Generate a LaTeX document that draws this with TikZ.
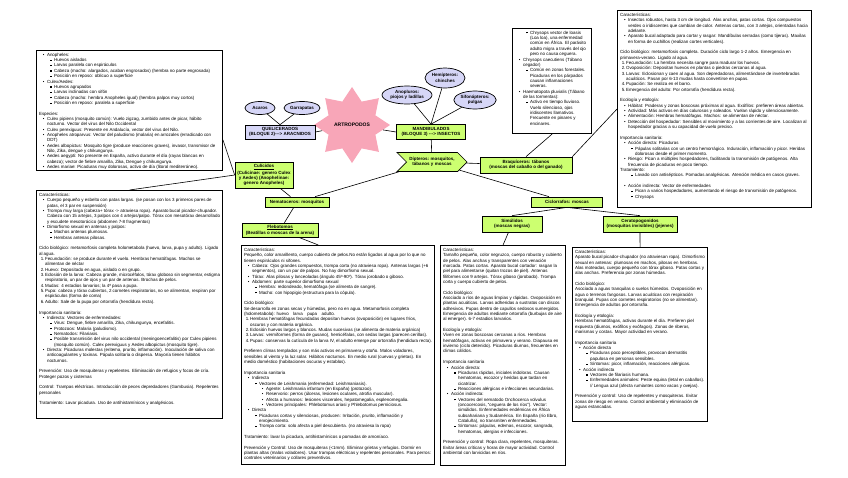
\documentclass[tikz,border=0pt]{standalone}
\usepackage{fontspec}
\setmainfont{Liberation Sans}
\usepackage{enumitem}
\usetikzlibrary{shapes.geometric,shapes.symbols}

\definecolor{lima}{RGB}{204,255,112}
\definecolor{lila}{RGB}{214,214,247}
\definecolor{rosa}{RGB}{248,166,184}

\newcommand\txtsize{\fontsize{4.45}{5.35}\selectfont}
\newcommand\nodesize{\fontsize{4.5}{5.3}\selectfont\bfseries}
\newcommand\sqb{\raisebox{.35ex}{\rule{1.1pt}{1.1pt}}}
\newcommand\gap{\par\vspace{5.35pt}}
\newcommand\cajatxt[3]{\begin{minipage}[t][#2][t]{#1}\raggedright #3\end{minipage}}
\setlength\parindent{0pt}
\setlist{nosep}
\setlist[itemize,1]{label=\textbullet,leftmargin=8pt,labelsep=2.5pt}
\setlist[itemize,2]{label=\sqb,leftmargin=7pt,labelsep=2.5pt}
\setlist[itemize,3]{label=\textbullet,leftmargin=7pt,labelsep=2.5pt}
\setlist[enumerate]{label=\arabic*.,leftmargin=6pt,labelwidth=4pt,labelsep=0.3pt,align=left}

\tikzset{
  txtbox/.style={draw,line width=1.1pt,anchor=north west,inner sep=2.5pt,font=\txtsize},
  grnode/.style={draw,fill=lima,line width=0.7pt,align=center,font=\nodesize,inner sep=1.5pt},
  lavbox/.style={grnode,fill=lila},
  lavell/.style={ellipse,draw,fill=lila,line width=0.7pt,align=center,font=\nodesize,inner sep=0.5pt},
}

\begin{document}
\begin{tikzpicture}[x=1pt,y=-1pt,line width=0.6pt]
\useasboundingbox (0,0) rectangle (848,477);
%% text boxes
\node[txtbox] (tlbox) at (36,50) {\cajatxt{181pt}{115pt}{%
\begin{itemize}
\item Anopheles:
  \begin{itemize}
  \item Huevos aislados
  \item Larvas paralela con espiráculos
  \item Cabeza (macho: alargados, acaban engrosados) (hembra no parte engrosada)
  \item Posición en reposo: oblicuo a superficie
  \end{itemize}
\item Culex/Aedes:
  \begin{itemize}
  \item Huevos agrupados
  \item Larvas inclinadas con sifón
  \item Cabeza (macho: hembra Anopheles igual) (hembra palpos muy cortos)
  \item Posición en reposo: paralela a superficie
  \end{itemize}
\end{itemize}
\gap
Especies:
\begin{itemize}
\item Culex pipiens (mosquito común): Vuelo zigzag, zumbido antes de picar, hábito nocturno. Vector del virus del Nilo Occidental
\item Culex perexiguus: Presente en Andalucía, vector del virus del Nilo.
\item Anopheles atroparvus: Vector del paludismo (malaria) en arrozales (erradicado con DDT)
\item Aedes albopictus: Mosquito tigre (produce reacciones graves), invasor, transmisor de Nilo, Zika, dengue y chikungunya.
\item Aedes aegypti: No presente en España, activo durante el día (rayas blancas en cabeza); vector de fiebre amarilla, Zika, Dengue y chikungunya.
\item Aedes mariae: Picaduras muy dolorosas, activo de día (litoral mediterráneo).
\end{itemize}}};
\node[txtbox] (blbox) at (36,190) {\cajatxt{181pt}{223pt}{%
Características:
\begin{itemize}
\item Cuerpo pequeño y esbelto con patas largas. (se posan con los 3 primeros pares de patas, el 3 par en suspensión)
\item Trompa muy larga (cabeza+ tórax -> atraviesa ropa). Aparato bucal picador-chupador. Cabeza con 15 artejos, 3 palpos con 4 artejos/palpo. Tórax con mesotórax desarrollado y escudete mesotorácico (abdomen 7-8 fragmentos)
\item Dimorfismo sexual en antenas y palpos:
  \begin{itemize}
  \item Machos antenas plumosas.
  \item Hembras antenas pilosas.
  \end{itemize}
\end{itemize}
\gap
Ciclo biológico: metamorfosis completa holometabola (huevo, larva, pupa y adulto). Ligado al agua.
\begin{enumerate}
\item Fecundación: se produce durante el vuelo. Hembras hematófagas. Machos se alimentan de néctar
\item Huevo: Depositado en agua, aislado o en grupo.
\item Eclosión de la larva: Cabeza grande, microcéfalos, tórax globoso sin segmentar, estigma respiratorio, un par de ojos y un par de antenas. Brochas de pelos.
\item Mudas: 4 estadios larvarios; la 4ª pasa a pupa.
\item Pupa: cabeza y tórax cubiertos, 2 cornetes respiratorios, no se alimentan, respiran por espiráculos (forma de coma)
\item Adulto: Sale de la pupa por ortorrafia (hendidura recta).
\end{enumerate}
\gap
Importancia sanitaria:
\begin{itemize}
\item Indirecta: Vectores de enfermedades:
  \begin{itemize}
  \item Virus: Dengue, fiebre amarilla, Zika, chikungunya, encefalitis.
  \item Protozoos: Malaria (paludismo).
  \item Nematodos: Filariasis.
  \item Posible transmisión del virus nilo occidental (meningoencefalitis) por Culex pipiens (mosquito común). Culex perexiguus y Aedes albopictus (mosquito tigre).
  \end{itemize}
\item Directa: Picaduras molestas (eritema, prurito, inflamación). Inoculación de saliva con anticoagulantes y toxinas. Pápula solitaria o dispersa. Mayoría tienen hábitos nocturnos.
\end{itemize}
\gap
Prevención: Uso de mosquiteras y repelentes. Eliminación de refugios y focos de cría. Proteger pozos y cisternas
\gap
Control: Trampas eléctricas. Introducción de peces depredadores (Gambusia). Repelentes personales
\gap
Tratamiento: Lavar picadura. Uso de antihistamínicos y analgésicos.}};
\node[txtbox] (chry) at (512,28) {\cajatxt{74pt}{100pt}{%
\begin{itemize}[leftmargin=15pt,label=\sqb]
\item Chrysops vector de loasis (Loa loa), una enfermedad común en África. El parásito adulto migra a través del ojo pero no causa ceguera.
\end{itemize}
\begin{itemize}
\item Chrysops caecutiens (Tábano cegador)
  \begin{itemize}
  \item Común en zonas forestales. Picaduras en los párpados causan inflamaciones severas.
  \end{itemize}
\item Haematopota pluvialis (Tábano de las tormentas):
  \begin{itemize}
  \item Activo en tiempo lluvioso. Vuelo silencioso, ojos iridiscentes llamativos. Frecuente en pinares y encinares.
  \end{itemize}
\end{itemize}}};
\node[txtbox] (trbox) at (617,10) {\cajatxt{189pt}{192pt}{%
Características:
\begin{itemize}
\item Insectos robustos, hasta 3 cm de longitud. Alas anchas, patas cortas. Ojos compuestos verdes o iridiscentes que cambian de color. Antenas cortas, con 3 artejos, orientadas hacia adelante.
\item Aparato bucal adaptado para cortar y rasgar: Mandíbulas serradas (como tijeras). Maxilas en forma de cuchillos (realizan cortes verticales).
\end{itemize}
\gap
Ciclo biológico: metamorfosis completa. Duración ciclo largo 1-2 años. Emergencia en primavera-verano. Ligado al agua.
\begin{enumerate}
\item Fecundación: La hembra necesita sangre para madurar los huevos.
\item Ovoposición: Depositan huevos en plantas o piedras cercanas al agua.
\item Larvas: Eclosionan y caen al agua. Son depredadoras, alimentándose de invertebrados acuáticos. Pasan por 6-13 mudas hasta convertirse en pupas.
\item Pupación: Se realiza en el barro.
\item Emergencia del adulto: Por ortorrafia (hendidura recta).
\end{enumerate}
\gap
Ecología y etología:
\begin{itemize}
\item Hábitat: Praderas y zonas boscosas próximas al agua. Exófilos: prefieren áreas abiertas.
\item Actividad: Más activos en días calurosos y soleados. Vuelan rápido y silenciosamente.
\item Alimentación: Hembras hematófagas. Machos: se alimentan de néctar.
\item Detección del hospedador: Sensibles al movimiento y a las corrientes de aire. Localizan al hospedador gracias a su capacidad de vuelo preciso.
\end{itemize}
\gap
Importancia sanitaria:
\begin{itemize}
\item Acción directa: Picaduras
  \begin{itemize}
  \item Pápulas solitarias con un centro hemorrágico. Induración, inflamación y picor. Heridas dolorosas desde el primer momento.
  \end{itemize}
\item Riesgo: Pican a múltiples hospedadores, facilitando la transmisión de patógenos. Alta frecuencia de picaduras en poco tiempo.
\end{itemize}
Tratamiento:
\begin{itemize}[leftmargin=15pt,label=\sqb]
\item Lavado con antisépticos. Pomadas analgésicas. Atención médica en casos graves.
\end{itemize}
\gap
\begin{itemize}
\item Acción indirecta: Vector de enfermedades
  \begin{itemize}
  \item Pican a varios hospedadores, aumentando el riesgo de transmisión de patógenos.
  \item Chrysops
  \end{itemize}
\end{itemize}}};
\node[txtbox] (bcbox) at (241,245) {\cajatxt{188pt}{214pt}{%
Características:\par
Pequeño, color amarillento, cuerpo cubierto de pelos.No están ligados al agua por lo que no tienen espiráculos ni sifones.
\begin{itemize}
\item Cabeza: Ojos grandes compuestos, trompa corta (no atraviesa ropa). Antenas largas (+6 segmentos), con un par de palpos. No hay dimorfismo sexual.
\item Tórax: Alas pilosas y lanceoladas (ángulo 45º-90º). Tórax jorobado o giboso.
\item Abdomen: parte superior dimorfismo sexual
  \begin{itemize}
  \item Hembra: redondeado, hematófaga (se alimenta de sangre).
  \item Macho: con hipopigio (estructura para la cópula).
  \end{itemize}
\end{itemize}
\gap
Ciclo biológico:\par
Se desarrolla en zonas secas y húmedas, pero no en agua. Metamorfosis completa (holometabola): huevo\quad larva\quad pupa\quad adulto.
\begin{enumerate}
\item Hembras hematófagas fecundadas depositan huevos (ovoposición) en lugares fríos, oscuros y con materia orgánica.
\item Eclosión huevos largos y blancos. Mudas sucesivas (se alimenta de materia orgánica)
\item Larvas: vermiformes (forma de gusano), hemicéfalas, con sedas largas (parecen cerillas).
\item Pupas: conservas la cutícula de la larva IV, el adulto emerge por ortorrafia (hendidura recta).
\end{enumerate}
\gap
Prefieren climas templados y son más activos en primavera y otoño. Malos voladores, sensibles al viento y la luz solar. Hábitos nocturnos. En medio rural (cuevas y grietas). En medio doméstico (habitaciones oscuras y establos).
\gap
Importancia sanitaria
\begin{itemize}
\item Indirecta
  \begin{itemize}
  \item Vectores de Leishmania (enfermedad: Leishmaniasis).
    \begin{itemize}
    \item Agente: Leishmania infantum (en España) (protozoo).
    \item Reservorio: perros (úlceras, lesiones oculares, atrofia muscular).
    \item Afecta a humanos: lesiones viscerales, hepatomegalia, esplenomegalia.
    \item Vectores principales: Phlebotomus ariasi y Phlebotomus perniciosus.
    \end{itemize}
  \end{itemize}
\item Directa
  \begin{itemize}
  \item Picaduras cortas y silenciosas, producen: Irritación, prurito, inflamación y enrojecimiento.
  \item Trompa corta: solo afecta a piel descubierta. (no atraviesa la ropa)
  \end{itemize}
\end{itemize}
\gap
Tratamiento: lavar la picadura, antihistamínicos o pomadas de amoníaco.
\gap
Prevención y Control: Uso de mosquiteras (<1mm). Eliminar grietas y refugios. Dormir en plantas altas (malos voladores). Usar trampas eléctricas y repelentes personales. Para perros: controles veterinarios y collares preventivos.}};
\node[txtbox] (simubox) at (440,245) {\cajatxt{120pt}{215pt}{%
Características:\par
Tamaño pequeño, color negruzco, cuerpo robusto y cubierto de pelos. Alas anchas y transparentes con venación marcada. Patas cortas. Aparato bucal cortador: rasgan la piel para alimentarse (quitan trozos de piel). Antenas filiformes con 9 artejos. Tórax giboso (jorobado). Trompa corta y cuerpo cubierto de pelos.
\gap
Ciclo biológico:\par
Asociado a ríos de aguas limpias y rápidas. Ovoposición en plantas acuáticas. Larvas adheridas a sustratos con discos adhesivos. Pupas dentro de capullos sedosos sumergidos. Emergencia de adultos mediante ortorrafia (burbujas de aire al emerger). 6-7 estadios larvarios.
\gap
Ecología y etología:\par
Viven en zonas boscosas cercanas a ríos. Hembras hematófagas, activas en primavera y verano. Diapausa en invierno (ciclo detenido). Picaduras diurnas, frecuentes en climas cálidos.
\gap
Importancia sanitaria
\begin{itemize}
\item Acción directa:
  \begin{itemize}
  \item Picaduras rápidas, iniciales indoloras. Causan hematomas, escozor y heridas que tardan en cicatrizar.
  \item Reacciones alérgicas e infecciones secundarias.
  \end{itemize}
\item Acción indirecta:
  \begin{itemize}
  \item Vectores del nematodo Onchocerca volvulus (oncocercosis, “ceguera de los ríos”). Vector: simúlidos. Enfermedades endémicas en África subsahariana y Sudamérica. En España (río Ebro, Cataluña), no transmiten enfermedades.
  \item Síntomas: pápulas, edemas, escozor, sangrado, hematomas, alergias e infecciones.
  \end{itemize}
\end{itemize}
\gap
Prevención y control: Ropa clara, repelentes, mosquiteras. Evitar áreas críticas y horas de mayor actividad. Control ambiental con larvicidas en ríos.}};
\node[txtbox] (ceratbox) at (572,247) {\cajatxt{130pt}{169pt}{%
Características:\par
Aparato bucal picador-chupador (no atraviesan ropa). Dimorfismo sexual en antenas: plumosas en machos, pilosas en hembras. Alas moteadas, cuerpo pequeño con tórax giboso. Patas cortas y alas anchas. Preferencia por zonas húmedas.
\gap
Ciclo biológico:\par
Asociado a aguas tranquilas o suelos húmedos. Ovoposición en agua o terrenos fangosos. Larvas acuáticas con respiración branquial. Pupas con cornetes respiratorios (no se alimentan). Emergencia de adultos por ortorrafia.
\gap
Ecología y etología:\par
Hembras hematófagas, activas durante el día. Prefieren piel expuesta (diurnos, exófilos y exófagos). Zonas de riberas, marismas y costas. Mayor actividad en verano.
\gap
Importancia sanitaria
\begin{itemize}
\item Acción directa
  \begin{itemize}
  \item Picaduras poco perceptibles, provocan dermatitis papulosa en personas sensibles.
  \item Síntomas: picor, inflamación, reacciones alérgicas.
  \end{itemize}
\item Acción indirecta
  \begin{itemize}
  \item Vectores de filariasis humana.
  \item Enfermedades animales: Peste equina (letal en caballos). // Lengua azul (afecta rumiantes como vacas y ovejas).
  \end{itemize}
\end{itemize}
\gap
Prevención y control: Uso de repelentes y mosquiteras. Evitar zonas de riesgo en verano. Control ambiental y eliminación de aguas estancadas.}};
%% mind map nodes
\node[star,star points=8,star point ratio=1.5,fill=rosa,minimum size=55pt,inner sep=0pt,font=\fontsize{5}{6}\selectfont\bfseries] (artro) at (352,125) {ARTROPODOS};
\node[lavbox,minimum width=70pt,minimum height=14pt] (quel) at (280,132) {QUELICERADOS\\(BLOQUE 2){-}{-}{-}> ARACNIDOS};
\node[grnode,minimum width=69pt,minimum height=15pt] (mand) at (431,132) {MANDIBULADOS\\(BLOQUE 3) {-}{-}{-}> INSECTOS};
\node[lavell,minimum width=30pt,minimum height=13pt] (acaros) at (260,108) {Acaros};
\node[lavell,minimum width=36pt,minimum height=13pt] (garra) at (302,108) {Garrapatas};
\node[lavell,minimum width=50pt,minimum height=18pt] (anop) at (407,95) {Anopluros:\\piojos y ladillas};
\node[lavell,minimum width=40pt,minimum height=20pt] (hemi) at (445,78) {Hemípteros:\\chinches};
\node[lavell,minimum width=38pt,minimum height=18pt] (sifo) at (475,100) {Sifonápteros:\\pulgas};
\node[grnode,signal,signal from=west,signal to=east,minimum width=70pt,minimum height=19pt] (dipt) at (432,162) {Dípteros: mosquitos,\\tábanos y moscas};
\node[grnode,minimum width=92pt,minimum height=16pt] (braq) at (526,165) {Braquíceros: tábanos\\(moscas del caballo o del ganado)};
\node[grnode,minimum width=58pt,minimum height=26pt] (culi) at (264,175) {\underline{Culícidos}\\(Culicinae: genero Culex\\y Aedes) (Anophelinae:\\genero Anopheles)};
\node[grnode,minimum width=64pt,minimum height=10pt] (nema) at (297,202) {Nematoceros: mosquitos};
\node[grnode,minimum width=76pt,minimum height=14pt] (fleb) at (280,230) {\underline{Flebotomos}\\(Beatillas o moscas de la arena)};
\node[grnode,minimum width=71pt,minimum height=10pt] (ciclo) at (567,202) {Ciclorrafos: moscas};
\node[grnode,minimum width=60pt,minimum height=16pt] (simu) at (512,224) {Simúlidos\\(moscas negras)};
\node[grnode,minimum width=74pt,minimum height=16pt] (cerat) at (640,224) {Ceratopogonidos\\(mosquitos invisibles) (jejenes)};
\coordinate (tlhook) at (223,140);
%% connectors
\draw (quel.east) -- (artro);
\draw (artro) -- (mand.west);
\draw (acaros) -- (quel.north);
\draw (garra) -- (quel.north);
\draw (anop) -- (mand.north);
\draw (hemi) -- (mand.north);
\draw (sifo) -- (mand.north);
\draw (mand) -- (dipt);
\draw (dipt) -- (braq);
\draw (braq.north) -- (chry.south);
\draw (braq.north east) -- (trbox.west);
\draw (dipt) -- (nema);
\draw (dipt) -- (ciclo);
\draw (culi) -- (nema);
\draw (nema) -- (fleb);
\draw (fleb) -- (bcbox.north west -| fleb.south east);
\draw (tlhook) -- (culi.west);
\draw (culi.west) -- (blbox.north);
\draw (ciclo.south) -- (simu.north);
\draw (ciclo.south) -- (cerat.north);
\draw (simu) -- (simubox.north);
\draw (cerat) -- (ceratbox.north);
\end{tikzpicture}
\end{document}
